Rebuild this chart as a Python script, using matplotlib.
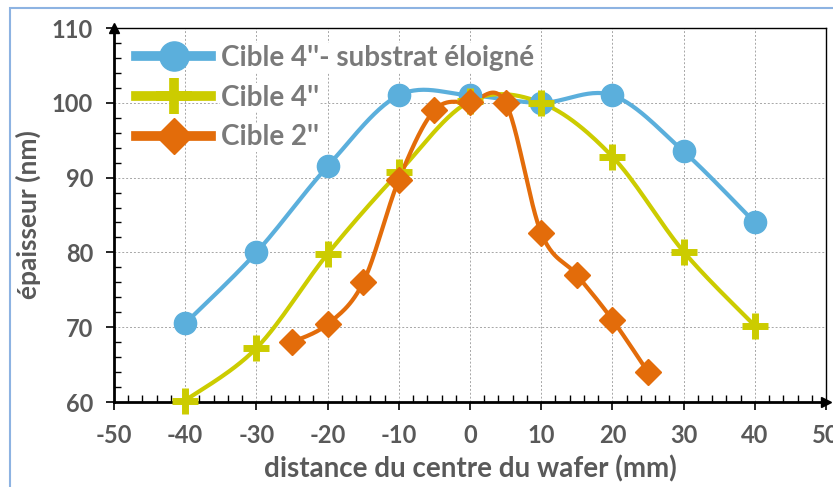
import matplotlib.pyplot as plt
import numpy as np
from matplotlib.patches import Rectangle

plt.rcParams["font.family"] = ["Lato", "DejaVu Sans"]
plt.rcParams["axes.unicode_minus"] = False

TEXT_GRAY = "#595959"
LEGEND_GRAY = "#7a7a7a"

# data
x_far = [-40, -30, -20, -10, 0, 10, 20, 30, 40]
y_far = [70.5, 80.0, 91.5, 101.0, 101.0, 100.0, 101.0, 93.5, 84.0]

x_4in = [-40, -30, -20, -10, 0, 10, 20, 30, 40]
y_4in = [60.2, 67.2, 79.8, 90.7, 100.2, 100.0, 92.8, 80.1, 70.2]

x_2in = [-25, -20, -15, -10, -5, 0, 5, 10, 15, 20, 25]
y_2in = [68.0, 70.4, 76.0, 89.7, 99.0, 100.1, 100.0, 82.6, 77.0, 71.0, 64.0]

labels = ["Cible 4''- substrat éloigné", "Cible 4''", "Cible 2''"]
colors = ["#5bafdc", "#cccc00", "#e36c0a"]


def smooth(xs, ys, sx=7.12, sy=7.48, n=30):
    # bezier smoothing similar to spreadsheet "smoothed line"
    p = np.column_stack([np.asarray(xs, float) * sx, np.asarray(ys, float) * sy])
    out = []
    for i in range(len(p) - 1):
        p0 = p[i - 1] if i > 0 else p[i]
        p1, p2 = p[i], p[i + 1]
        p3 = p[i + 2] if i + 2 < len(p) else p[i + 1]
        c1 = p1 + (p2 - p0) / 6.0
        c2 = p2 - (p3 - p1) / 6.0
        t = np.linspace(0, 1, n)[:, None]
        seg = ((1 - t) ** 3) * p1 + 3 * ((1 - t) ** 2) * t * c1 + 3 * (1 - t) * t ** 2 * c2 + t ** 3 * p2
        out.append(seg if i == 0 else seg[1:])
    out = np.vstack(out)
    return out[:, 0] / sx, out[:, 1] / sy


fig = plt.figure(figsize=(8.33, 4.87), dpi=100)
fig.patches.append(Rectangle((10 / 833, -0.05), 1.1, 1 - 8 / 487 + 0.05, transform=fig.transFigure,
                             fill=False, edgecolor="#8db3e2", linewidth=1.5))
ax = fig.add_axes([114 / 833, 1 - 402 / 487, 712 / 833, 374 / 487])

series = [(x_far, y_far, "o", 16), (x_4in, y_4in, "P", 0), (x_2in, y_2in, "D", 13)]
handles = []
for (xs, ys, mk, ms), lab, col in zip(series, labels, colors):
    sx_, sy_ = smooth(xs, ys)
    ax.plot(sx_, sy_, color=col, lw=3, zorder=3, solid_capstyle="round")
    if mk == "P":
        ax.plot(xs, ys, ls="none", marker="+", ms=19, mew=5, color=col, zorder=4, clip_on=False)
        h, = ax.plot([], [], color=col, lw=7, marker="+", ms=26, mew=7, label=lab)
    else:
        ax.plot(xs, ys, ls="none", marker=mk, ms=ms, color=col, mec=col, zorder=4, clip_on=False)
        h, = ax.plot([], [], color=col, lw=7, marker=mk, ms=ms + 5, label=lab)
    handles.append(h)

ax.set_xlim(-50, 50)
ax.set_ylim(60, 110)
ax.set_xticks(np.arange(-50, 51, 10))
ax.set_yticks(np.arange(60, 111, 10))
ax.set_xticks(np.arange(-50, 51, 2), minor=True)
ax.set_yticks(np.arange(60, 111, 2), minor=True)
ax.grid(True, which="major", linestyle=(0, (2, 2)), color="#a6a6a6", linewidth=0.7)
ax.tick_params(which="major", direction="out", length=6, width=1.2, colors="black",
               labelcolor=TEXT_GRAY, labelsize=17)
ax.tick_params(axis="x", which="major", pad=10)
ax.tick_params(axis="y", which="major", pad=9)
ax.tick_params(which="minor", direction="in", length=5, width=1, colors="black")
ax.tick_params(axis="x", which="both", top=False)
ax.tick_params(axis="y", which="both", right=False)
for lab in ax.get_xticklabels() + ax.get_yticklabels():
    lab.set_fontweight("bold")

for side in ["left", "bottom"]:
    ax.spines[side].set_linewidth(2)
for side in ["top", "right"]:
    ax.spines[side].set_linewidth(1)
ax.plot([-50], [110], marker="^", ms=7, color="black", clip_on=False, zorder=5)
ax.plot([50], [60], marker=">", ms=7, color="black", clip_on=False, zorder=5)

ax.set_xlabel("distance du centre du wafer (mm)", fontsize=20, fontweight="bold", color=TEXT_GRAY, labelpad=6)
ax.set_ylabel("épaisseur (nm)", fontsize=19, fontweight="bold", color=TEXT_GRAY, labelpad=8)

leg = ax.legend(handles=handles, loc="upper left", bbox_to_anchor=(0.0, 1.015), fontsize=20,
                frameon=False, handlelength=2.7, handletextpad=0.35, labelspacing=0.5, borderpad=0.3)
for t in leg.get_texts():
    t.set_color(LEGEND_GRAY)
    t.set_fontweight("bold")
    t.set_bbox(dict(facecolor="white", edgecolor="none", pad=1))
leg.set_zorder(6)

fig.savefig("out.png", dpi=100)
